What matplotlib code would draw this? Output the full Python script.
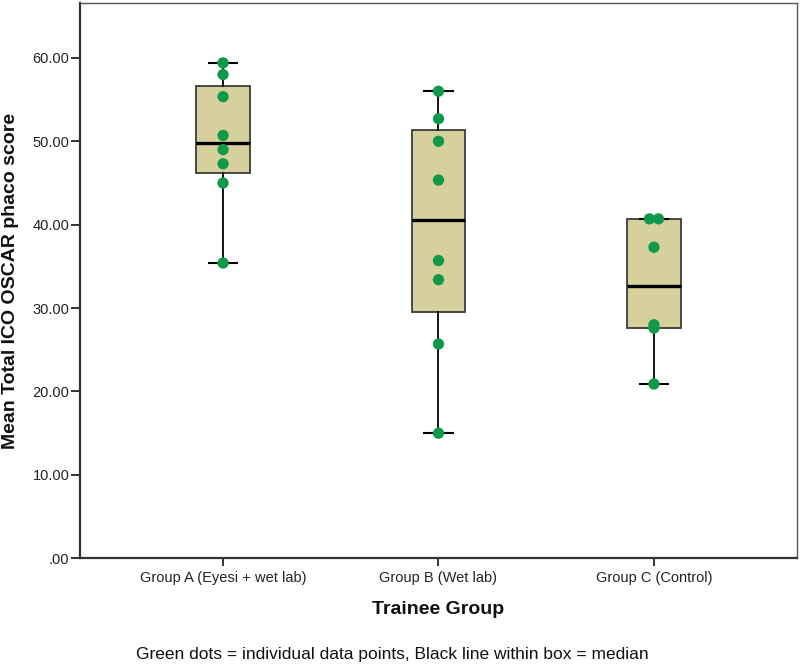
import numpy as np
import matplotlib
matplotlib.use("Agg")
import matplotlib.pyplot as plt

plt.rcParams['font.family'] = ['Liberation Sans', 'DejaVu Sans']

# ---- data ----
categories = ["Group A (Eyesi + wet lab)", "Group B (Wet lab)", "Group C (Control)"]
group_a = [59.4, 58.0, 55.35, 50.7, 49.0, 47.3, 45.0, 35.4]
group_b = [56.0, 52.7, 50.0, 45.35, 35.7, 33.4, 25.7, 15.0]
group_c = [40.7, 40.7, 37.3, 28.0, 27.6, 20.9]
y_ticks = [0, 10, 20, 30, 40, 50, 60]
y_tick_labels = [".00", "10.00", "20.00", "30.00", "40.00", "50.00", "60.00"]
groups = [group_a, group_b, group_c]


def tukey_stats(vals, label):
    v = np.sort(np.asarray(vals, dtype=float))
    n = len(v)
    med = np.median(v)
    half = (n + 1) // 2
    lower = v[:half] if n % 2 else v[:n // 2]
    upper = v[n - half:] if n % 2 else v[n // 2:]
    q1, q3 = np.median(lower), np.median(upper)
    iqr = q3 - q1
    lo = v[v >= q1 - 1.5 * iqr].min()
    hi = v[v <= q3 + 1.5 * iqr].max()
    return dict(med=med, q1=q1, q3=q3, whislo=lo, whishi=hi, fliers=[], label=label)


fig = plt.figure(figsize=(8.0, 6.66), dpi=100)
ax = fig.add_axes([80 / 800, 1 - 558.3 / 666, (797 - 80) / 800, (558.3 - 3) / 666])

stats = [tukey_stats(g, c) for g, c in zip(groups, categories)]
positions = [1, 2, 3]
ax.bxp(stats, positions=positions, widths=0.248, patch_artist=True,
       showfliers=False,
       boxprops=dict(facecolor='#d6d09c', edgecolor='#3c3c3c', linewidth=1.3),
       medianprops=dict(color='black', linewidth=2.4),
       whiskerprops=dict(color='black', linewidth=1.3),
       capprops=dict(color='black', linewidth=1.5),
       capwidths=0.133, zorder=2)

# individual points; tied values are dodged sideways
for pos, g in zip(positions, groups):
    g = np.asarray(g, dtype=float)
    xs = np.full(len(g), float(pos))
    for val in np.unique(g):
        idx = np.where(g == val)[0]
        k = len(idx)
        if k > 1:
            xs[idx] = pos + (np.arange(k) - (k - 1) / 2) * 0.042
    ax.scatter(xs, g, s=66, color='#11994b', edgecolors='none', zorder=4)

ax.set_xlim(0.336, 3.664)
ax.set_ylim(0, 66.58)
ax.set_yticks(y_ticks)
ax.set_yticklabels(y_tick_labels)
ax.set_xticks(positions)
ax.set_xticklabels(categories)

ax.tick_params(axis='y', direction='out', length=6.5, width=1.3, pad=1,
               labelsize=10.5, colors='#222222')
ax.tick_params(axis='x', direction='out', length=6.0, width=1.3, pad=3,
               labelsize=10.5, colors='#222222')

for side in ['left', 'bottom']:
    ax.spines[side].set_linewidth(1.6)
    ax.spines[side].set_color('#333333')
for side in ['top', 'right']:
    ax.spines[side].set_linewidth(1.0)
    ax.spines[side].set_color('#555555')

ax.set_ylabel("Mean Total ICO OSCAR phaco score", fontsize=14, fontweight='bold',
              color='#111111')
ax.yaxis.set_label_coords(-0.085, 0.5)

fig.text(438.5 / 800, 1 - 610 / 666, "Trainee Group", ha='center', va='center',
         fontsize=14, fontweight='bold', color='#111111')
fig.text(392.5 / 800, 1 - 655 / 666,
         "Green dots = individual data points, Black line within box = median",
         ha='center', va='center', fontsize=12.5, color='#111111')

fig.savefig("out.png", dpi=100)
